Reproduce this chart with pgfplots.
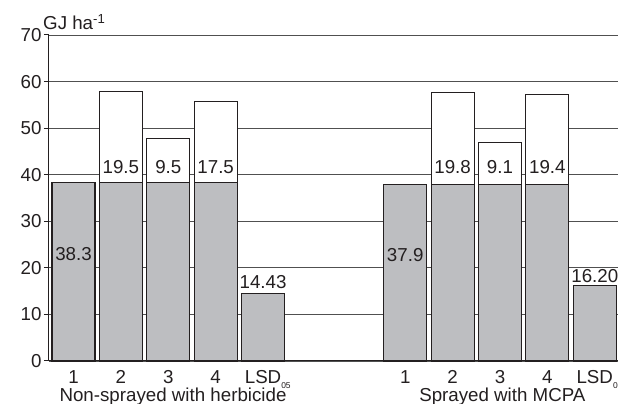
\documentclass[border=0pt]{standalone}
\usepackage{pgfplots}
\pgfplotsset{compat=1.18}
\usepackage{fontspec}
\setmainfont{Liberation Sans}
\definecolor{barfill}{RGB}{189,190,193}
\definecolor{ink}{RGB}{35,31,32}
\definecolor{gridc}{RGB}{80,80,80}
\newcommand\lsd{LSD\rlap{\raisebox{-0.5ex}{\fontsize{8.5}{8.5}\selectfont 05}}}
\newcommand\fs{\fontsize{18.8}{22}\selectfont}
\begin{document}
\begin{tikzpicture}
\begin{axis}[
  scale only axis,
  width=569bp, height=326bp,
  xmin=-0.517, xmax=11.49,
  ymin=0, ymax=70,
  ytick={0,10,...,70},
  xtick={0,1,2,3,4,7,8,9,10,11},
  xticklabels={1,2,3,4,\lsd,1,2,3,4,\lsd},
  axis x line*=bottom, axis y line*=left,
  axis line style={ink, line width=1bp},
  ymajorgrids, grid style={gridc, line width=0.9bp},
  ytick pos=left, tick align=outside, major tick length=5bp,
  ytick style={ink, line width=1bp},
  xtick style={draw=none},
  /pgf/number format/assume math mode=true,
  tick label style={font=\fs, text=ink},
  xticklabel style={anchor=base, yshift=-18bp},
  yticklabel style={xshift=1bp},
  ybar stacked, bar width=0.907,
  clip=false,
]
\addplot[fill=barfill, draw=ink, line width=1.1bp] coordinates {
  (0,38.3) (1,38.3) (2,38.3) (3,38.3) (4,14.43)
  (7,37.9) (8,37.9) (9,37.9) (10,37.9) (11,16.20)};
\addplot[fill=white, draw=ink, line width=1.1bp] coordinates {
  (0,0) (1,19.5) (2,9.5) (3,17.5) (4,0)
  (7,0) (8,19.8) (9,9.1) (10,19.4) (11,0)};
\coordinate (a0) at (axis cs:0,21.5);
\coordinate (a1) at (axis cs:1,40.2);
\coordinate (a2) at (axis cs:2,40.2);
\coordinate (a3) at (axis cs:3,40.2);
\coordinate (a4) at (axis cs:4,15.6);
\coordinate (b0) at (axis cs:7,21.3);
\coordinate (b1) at (axis cs:8,40.2);
\coordinate (b2) at (axis cs:9,40.2);
\coordinate (b3) at (axis cs:10,40.2);
\coordinate (b4) at (axis cs:11,16.9);
\coordinate (g1) at (axis cs:2.1,0);
\coordinate (g2) at (axis cs:9.05,0);
\coordinate (sw) at (rel axis cs:0,0);
\coordinate (ne) at (rel axis cs:1,1);
\coordinate (nw) at (rel axis cs:0,1);
\end{axis}
\begin{scope}[every node/.style={font=\fs, text=ink, anchor=base, inner sep=0pt}]
\node at (a0) {38.3};
\node at (a1) {19.5};
\node at (a2) {9.5};
\node at (a3) {17.5};
\node at (a4) {14.43};
\node at (b0) {37.9};
\node at (b1) {19.8};
\node at (b2) {9.1};
\node at (b3) {19.4};
\node at (b4) {16.20};
\node[yshift=-41bp] at (g1) {Non-sprayed with herbicide};
\node[yshift=-41bp] at (g2) {Sprayed with MCPA};
\node[anchor=base west, xshift=-6bp, yshift=5.5bp] at (nw) {GJ ha\textsuperscript{-1}};
\end{scope}
\pgfresetboundingbox
\path ([xshift=-49bp,yshift=-43bp]sw) rectangle ([yshift=35bp]ne);
\end{tikzpicture}
\end{document}
